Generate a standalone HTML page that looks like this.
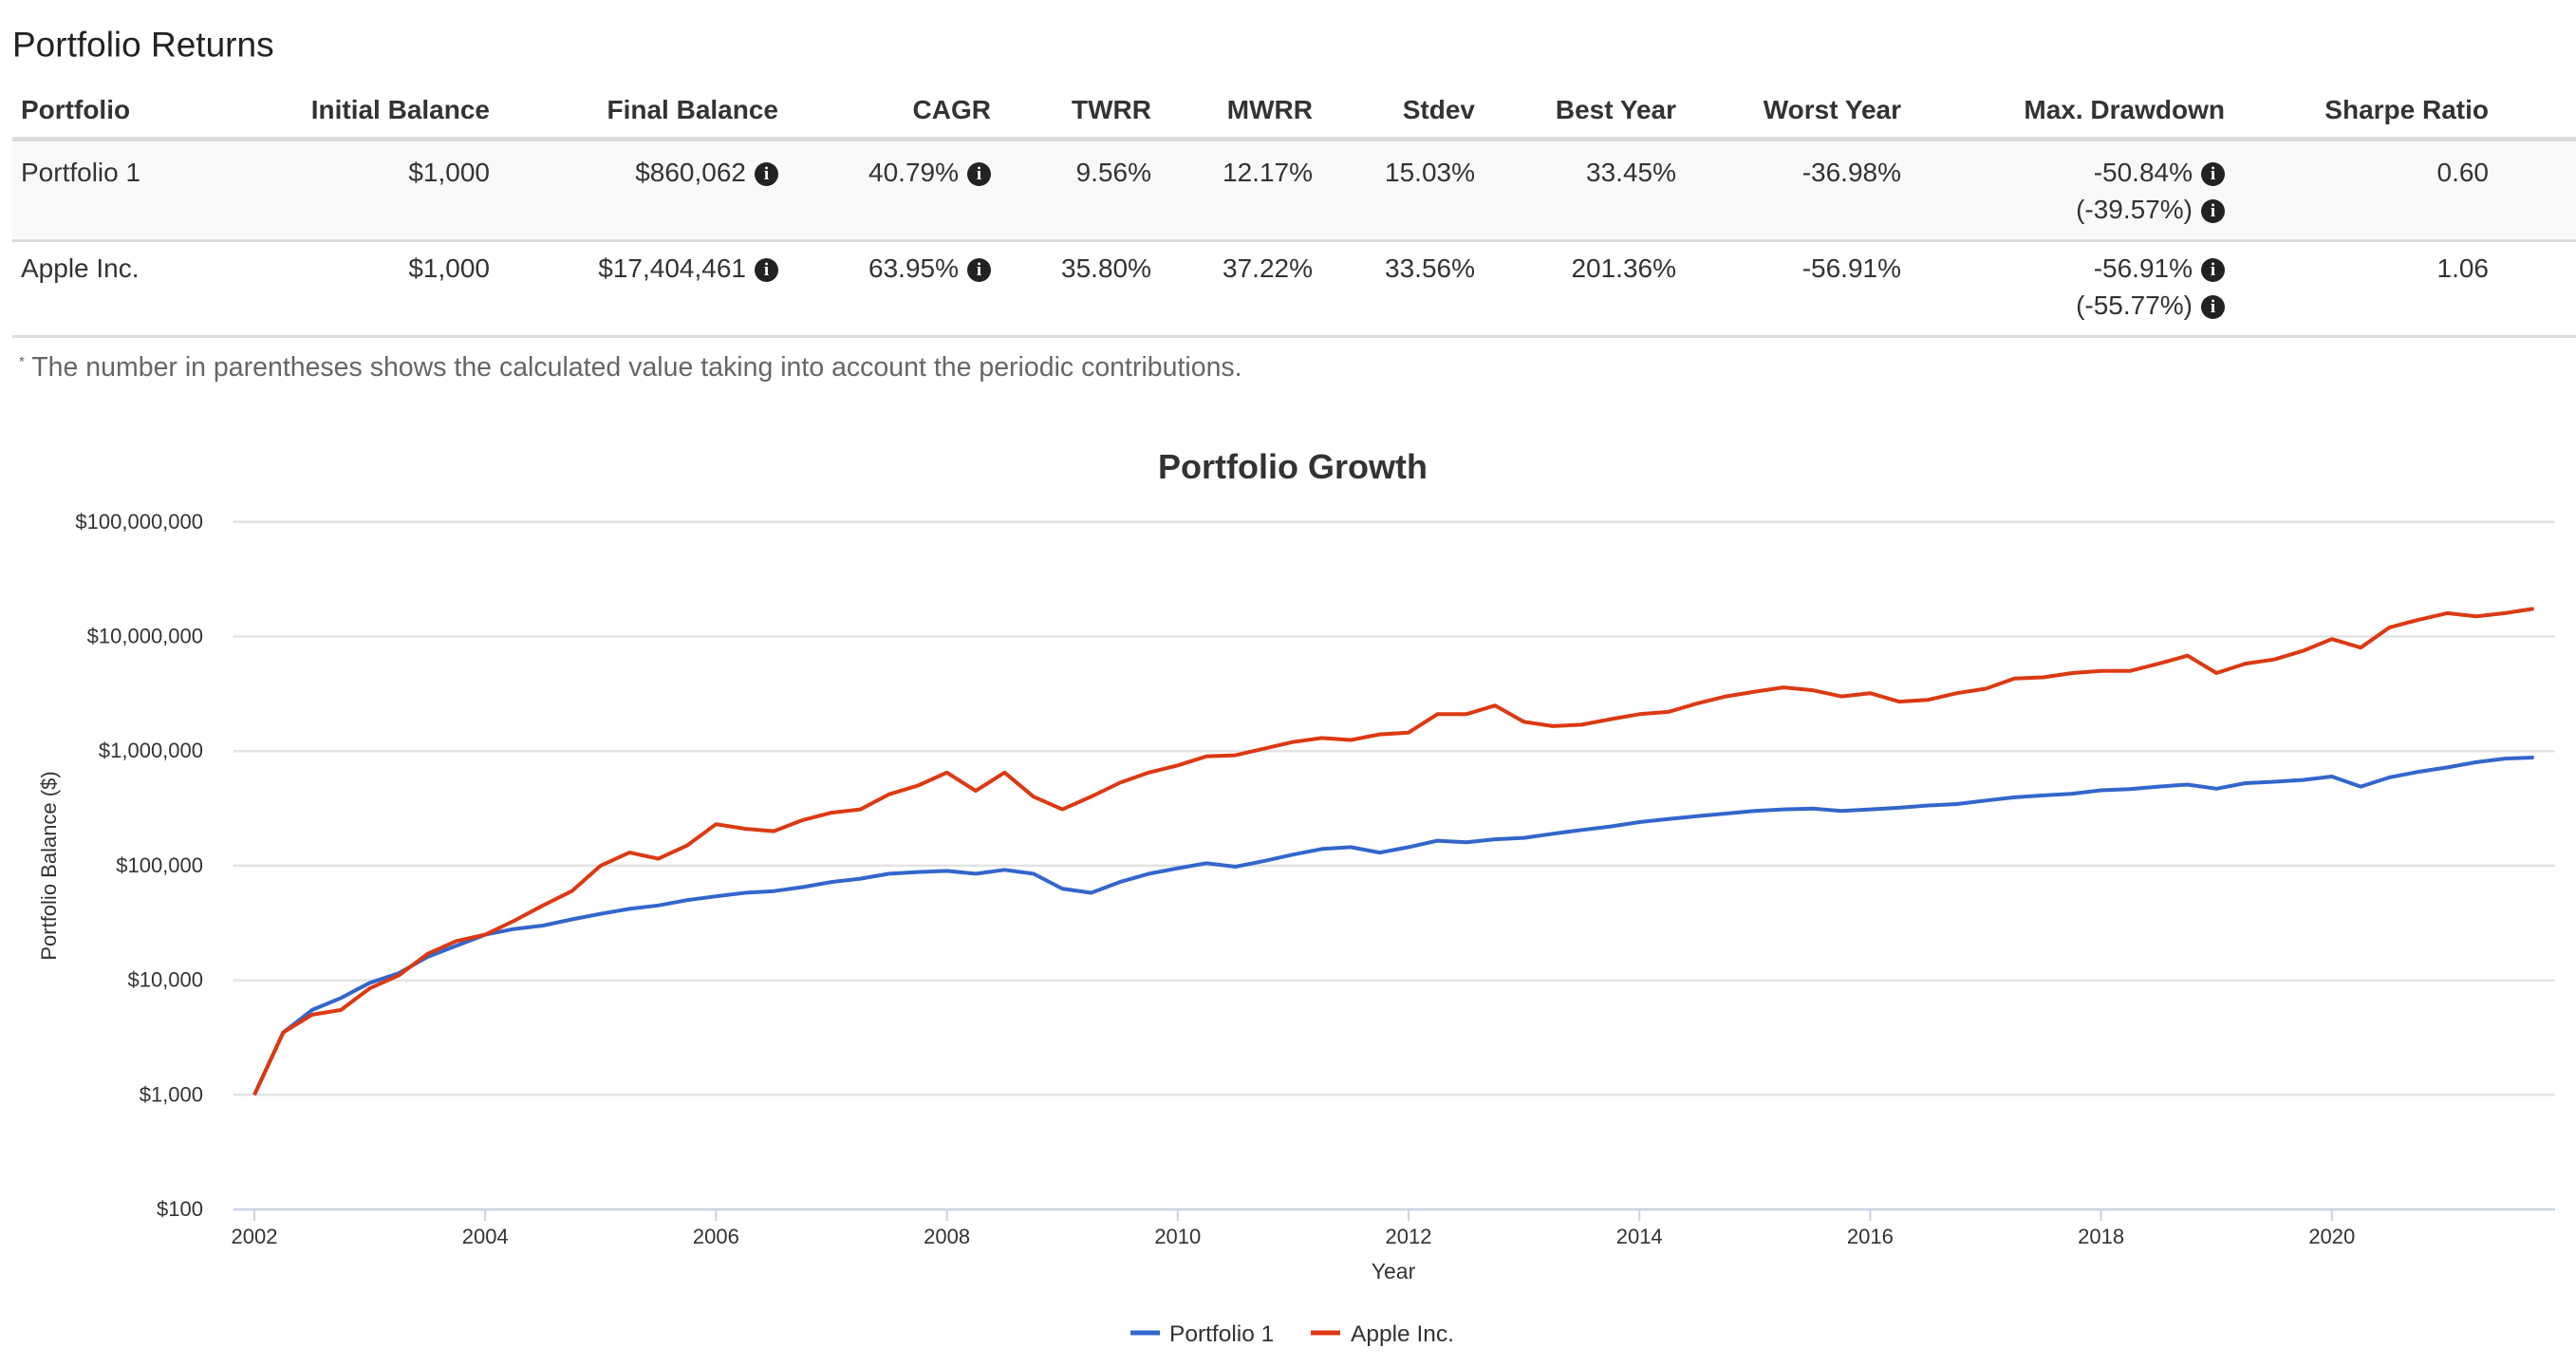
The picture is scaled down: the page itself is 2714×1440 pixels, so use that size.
<!DOCTYPE html>
<html><head><meta charset="utf-8">
<style>
body{margin:0;width:2714px;height:1440px;background:#fff;font-family:"Liberation Sans",Arial,sans-serif;color:#333;position:relative;overflow:hidden}
.t{position:absolute;white-space:nowrap;line-height:1;font-size:28px;transform:translateY(-50%)}
.r{text-align:right}
.b{font-weight:bold}
.ic{display:inline-block;width:25px;height:25px;border-radius:50%;background:#222;color:#fff;font-size:19px;line-height:25px;text-align:center;font-weight:bold;font-family:"Liberation Serif",serif;vertical-align:2px;margin-left:9px}
</style></head><body>
<div class="t b" style="left:13px;top:47px;font-size:37px;font-weight:normal;color:#222">Portfolio Returns</div>
<div style="position:absolute;left:13px;top:144px;width:2701px;height:5px;background:#ddd"></div>
<div style="position:absolute;left:13px;top:149px;width:2701px;height:103px;background:#f9f9f9"></div>
<div style="position:absolute;left:13px;top:252px;width:2701px;height:3px;background:#ddd"></div>
<div style="position:absolute;left:13px;top:353px;width:2701px;height:3px;background:#ddd"></div>
<div id="tbl"></div>
<div class="t" style="left:20px;top:387px;font-size:28.5px;color:#666"><sup style="font-size:15px">*</sup> The number in parentheses shows the calculated value taking into account the periodic contributions.</div>
<svg id="chart" width="2714" height="1440" style="position:absolute;left:0;top:0" xmlns="http://www.w3.org/2000/svg"></svg>
<script>
const cols=[["Portfolio",22,"l"],["Initial Balance",516],["Final Balance",820],["CAGR",1044],["TWRR",1213],["MWRR",1383],["Stdev",1554],["Best Year",1766],["Worst Year",2003],["Max. Drawdown",2344],["Sharpe Ratio",2622]];
const rows=[["Portfolio 1","$1,000","$860,062|i","40.79%|i","9.56%","12.17%","15.03%","33.45%","-36.98%","-50.84%|i","0.60"],
["Apple Inc.","$1,000","$17,404,461|i","63.95%|i","35.80%","37.22%","33.56%","201.36%","-56.91%","-56.91%|i","1.06"]];
const sub=["(-39.57%)|i","(-55.77%)|i"];
const tbl=document.getElementById('tbl');
function cell(txt,c,y,bold,name){
  const d=document.createElement('div');
  d.className='t'+(bold?' b':'');
  
  
  const [s,ic]=txt.split('|');
  d.innerHTML=s+(ic?'<span class="ic">i</span>':'');
  d.style.top=y+'px';
  if(c[2]==='l'){d.style.left=c[1]+'px';}else{d.style.right=(2714-c[1])+'px';}
  tbl.appendChild(d);
}
cols.forEach(c=>cell(c[0],c,116,true,'header-'+c[0].toLowerCase().replace(/[^a-z]+/g,'-')));
rows.forEach((r,i)=>{const y=182+i*101;r.forEach((v,j)=>cell(v,cols[j],y,false,'cell-r'+(i+1)+'-c'+j));cell(sub[i],cols[9],y+39,false,'drawdown-contrib-r'+(i+1));});
</script>
<script>
const years=[];for(let i=0;i<80;i++)years.push(2002+i*0.25);
const portfolio1=[1000,3500,5500,7000,9500,11500,16000,20000,25000,28000,30000,34000,38000,42000,45000,50000,54000,58000,60000,65000,72000,77000,85000,88000,90000,85000,92000,85000,63000,58000,72000,85000,95000,105000,98000,110000,125000,140000,145000,130000,145000,165000,160000,170000,175000,190000,205000,220000,240000,255000,270000,285000,300000,310000,315000,300000,310000,320000,335000,345000,370000,395000,410000,425000,455000,465000,490000,510000,470000,525000,540000,560000,600000,490000,590000,660000,720000,800000,860000,880000];
const apple=[1000,3500,5000,5500,8500,11000,17000,22000,25000,33000,45000,60000,100000,130000,115000,150000,230000,210000,200000,250000,290000,310000,420000,500000,650000,450000,650000,400000,310000,400000,530000,650000,750000,900000,920000,1050000,1200000,1300000,1250000,1400000,1450000,2100000,2100000,2500000,1800000,1650000,1700000,1900000,2100000,2200000,2600000,3000000,3300000,3600000,3400000,3000000,3200000,2700000,2800000,3200000,3500000,4300000,4400000,4800000,5000000,5000000,5800000,6800000,4800000,5800000,6300000,7500000,9500000,8000000,12000000,14000000,16000000,15000000,16000000,17500000];
const yTicks=[100,1000,10000,100000,1000000,10000000,100000000];
const yTickLabels=["$100","$1,000","$10,000","$100,000","$1,000,000","$10,000,000","$100,000,000"];
const xTicks=[2002,2004,2006,2008,2010,2012,2014,2016,2018,2020];
const svg=document.getElementById('chart');const NS='http://www.w3.org/2000/svg';
const X=v=>268+(v-2002)*121.6;
const Y=v=>1274-(Math.log10(v)-2)*120.7;
function el(tag,attrs,name,inter){const e=document.createElementNS(NS,tag);for(const k in attrs)e.setAttribute(k,attrs[k]);


svg.appendChild(e);return e;}
function txt(x,y,s,attrs,name){const e=el('text',Object.assign({x:x,y:y,'font-family':'Liberation Sans, Arial, sans-serif'},attrs),name,false);e.textContent=s;return e;}
yTicks.forEach((v,i)=>{
  el('line',{x1:246,x2:2692,y1:Y(v),y2:Y(v),stroke:i===0?'#c9d3e3':'#e3e3e3','stroke-width':2.5},'y-gridline');
  txt(214,Y(v)+7,yTickLabels[i],{'text-anchor':'end','font-size':22,fill:'#333'},'y-tick-label');
});
xTicks.forEach(v=>{
  el('line',{x1:X(v),x2:X(v),y1:1274,y2:1286,stroke:'#c9d3e3','stroke-width':2},'x-tick');
  txt(X(v),1310,String(v),{'text-anchor':'middle','font-size':22,fill:'#333'},'x-tick-label');
});
txt(1468,1347,'Year',{'text-anchor':'middle','font-size':23,fill:'#333'},'x-axis-title');
txt(0,0,'Portfolio Balance ($)',{'text-anchor':'middle','font-size':22,fill:'#333',transform:'translate(59,912) rotate(-90)'},'y-axis-title');
txt(1362,504,'Portfolio Growth',{'text-anchor':'middle','font-size':36,'font-weight':'bold',fill:'#333'},'chart-title');
function series(vals,color,name){const d=vals.map((v,i)=>(i?'L':'M')+X(years[i]).toFixed(1)+','+Y(v).toFixed(1)).join('');
  el('path',{d:d,fill:'none',stroke:color,'stroke-width':4,'stroke-linejoin':'round'},name,true);}
series(portfolio1,'#3366cc','series-portfolio-1');
series(apple,'#dc3912','series-apple-inc');
el('line',{x1:1191,x2:1222,y1:1404,y2:1404,stroke:'#3366cc','stroke-width':5},'legend-swatch-portfolio-1');
txt(1232,1413,'Portfolio 1',{'font-size':24.5,fill:'#333'},'legend-entry-portfolio-1');
el('line',{x1:1381,x2:1412,y1:1404,y2:1404,stroke:'#dc3912','stroke-width':5},'legend-swatch-apple-inc');
txt(1423,1413,'Apple Inc.',{'font-size':24.5,fill:'#333'},'legend-entry-apple-inc');
</script>
</body></html>
